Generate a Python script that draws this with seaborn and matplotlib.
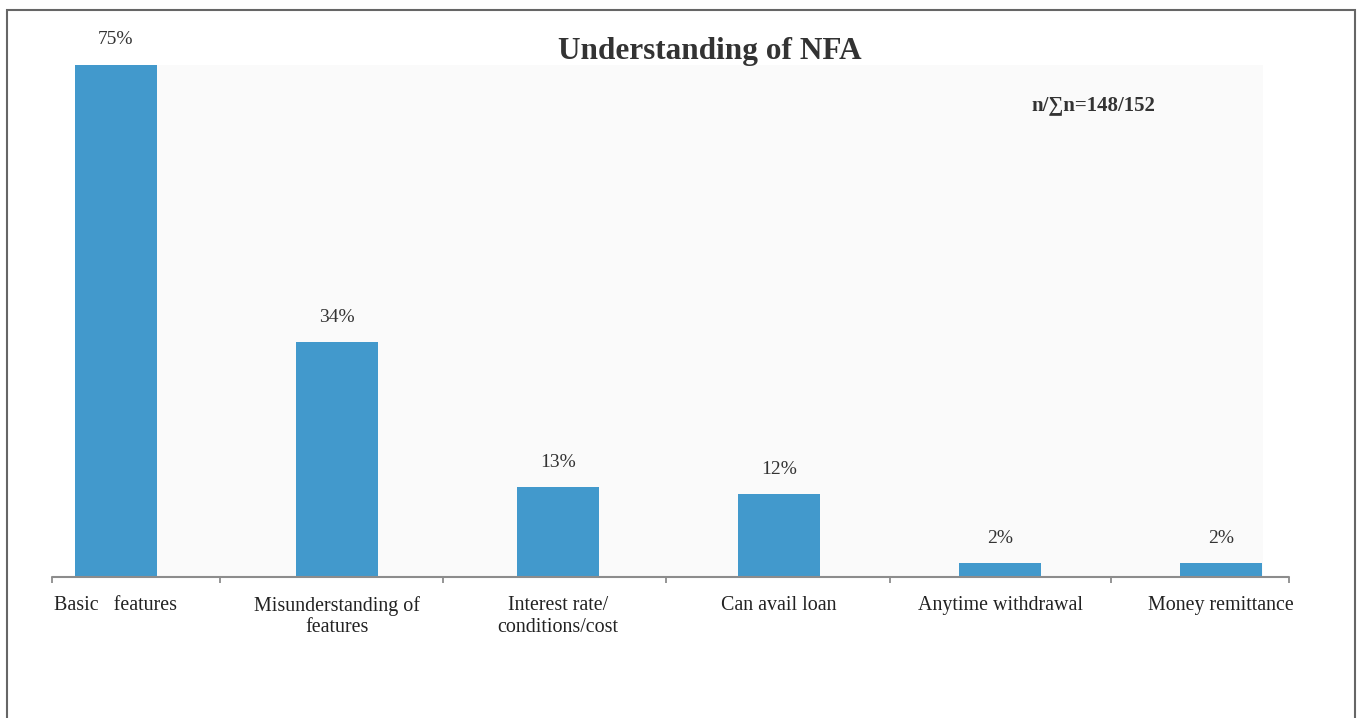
import matplotlib
matplotlib.use("Agg")
import matplotlib.pyplot as plt
from matplotlib.patches import Rectangle
import seaborn as sns
import pandas as pd

categories = [
    "Basic   features",
    "Misunderstanding of\nfeatures",
    "Interest rate/\nconditions/cost",
    "Can avail loan",
    "Anytime withdrawal",
    "Money remittance",
]
shares = [75, 34, 13, 12, 2, 2]
value_labels = ["75%", "34%", "13%", "12%", "2%", "2%"]
title_text = "Understanding of NFA"
sample_note = "n/\u2211n=148/152"

df = pd.DataFrame({"category": categories, "share": shares})

sns.set_style("white")
plt.rcParams["font.family"] = ["Liberation Serif", "DejaVu Serif"]

W, H = 1358, 718
fig = plt.figure(figsize=(W / 100, H / 100), dpi=100)
fig.patch.set_facecolor("white")

# plot area in pixel coordinates
left, right, top, bottom = 75, 1263, 65, 577
ax = fig.add_axes([left / W, 1 - bottom / H, (right - left) / W, (bottom - top) / H])
ax.set_facecolor("#fafafa")

sns.barplot(data=df, x="category", y="share", color="#4299cc", width=0.375,
            saturation=1, ax=ax, edgecolor="none")

y_top = 74.2
ax.set_xlim(-0.1855, 5.19)
ax.set_ylim(0, y_top)
ax.set_xlabel("")
ax.set_ylabel("")
ax.set_yticks([])
for s in ax.spines.values():
    s.set_visible(False)

ax.tick_params(axis="x", length=0, pad=14, labelsize=14.4, labelcolor="#222222")
for t in ax.get_xticklabels():
    t.set_linespacing(1.15)

# value labels above each bar (clipped bar gets its label above the plot edge)
for i, (v, lab) in enumerate(zip(shares, value_labels)):
    ax.annotate(lab, xy=(i, min(v, y_top)), xytext=(0, 18), textcoords="offset points",
                ha="center", va="center", fontsize=14, color="#333333",
                annotation_clip=False)

# category axis line with tick marks between categories
x0, x1 = -0.29, 5.308
ax.plot([x0, x1], [0, 0], color="#8c8c8c", lw=1.5, clip_on=False, zorder=5)
tick_pos = [x0, 0.47, 1.48, 2.49, 3.5, 4.5, x1]
ax.plot(tick_pos, [0] * len(tick_pos), ls="none", marker=3, markersize=4,
        markeredgewidth=1.3, color="#8c8c8c", clip_on=False, zorder=5)

fig.text(710 / W, 1 - 52 / H, title_text, ha="center", va="center",
         fontsize=22.5, fontweight="bold", color="#333333")
fig.text(1031 / W, 1 - 105 / H, sample_note, ha="left", va="center",
         fontsize=15, fontweight="bold", color="#333333")

# outer frame
fig.patches.append(Rectangle((7 / W, -0.01), (1355 - 7) / W, 1 - 10 / H + 0.01,
                             transform=fig.transFigure, fill=False,
                             edgecolor="#666666", lw=1.5))

fig.savefig("out.png", dpi=100, facecolor="white")
